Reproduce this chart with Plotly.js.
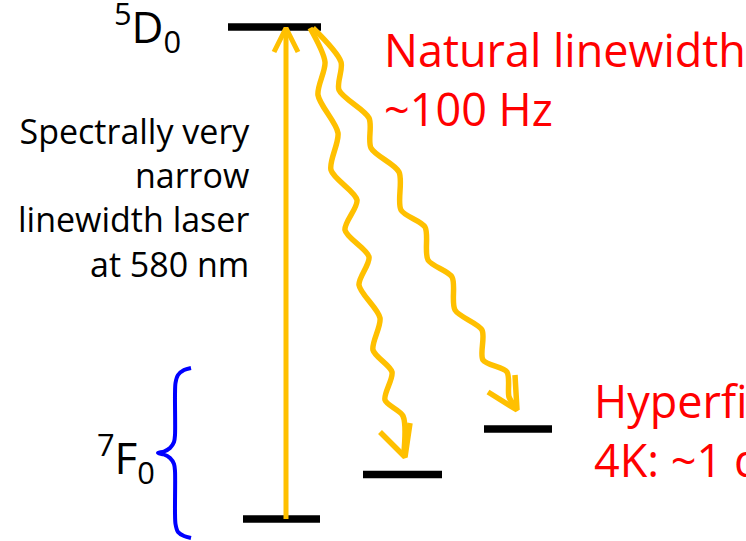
<!DOCTYPE html>
<html>
<head>
<meta charset="utf-8">
<script src="https://cdn.plot.ly/plotly-3.0.1.min.js"></script>
<style>html,body{margin:0;padding:0;background:#fff;}#chart{width:746px;height:541px;}</style>
</head>
<body>
<div id="chart"></div>
<script>
// Energy levels (diagram coordinates, y downward)
var levelNames = ["5D0", "7F0 a", "7F0 b", "7F0 c"];
var levelX0 = [228, 243, 363, 484];
var levelX1 = [321, 320, 442, 552];
var levelY  = [27, 519, 474.5, 429];

// Laser excitation arrow (straight)
var laserX = [286, 286];
var laserY = [519, 31];
var laserHeadX = [274, 286, 298];
var laserHeadY = [52, 28, 52];

// Wavy decay arrow 1 (to lower hyperfine level)
var wave1X = [310, 325, 318, 338, 331, 357, 345, 369, 359, 380, 373, 392, 385, 403, 404];
var wave1Y = [28, 62, 95, 133, 170, 200, 230, 257, 285, 318, 350, 372, 400, 416, 452];
var wave1HeadX = [380, 405, 410];
var wave1HeadY = [432, 457, 423];

// Wavy decay arrow 2 (to upper hyperfine level)
var wave2X = [313, 341, 339, 369, 371, 399, 401, 425, 428, 452, 455, 482, 483, 507, 509, 515];
var wave2Y = [28, 62, 90, 118, 148, 172, 210, 227, 260, 277, 310, 330, 360, 372, 397, 406];
var wave2HeadX = [488, 517, 515];
var wave2HeadY = [392, 410, 375];

// Curly brace grouping the 7F0 hyperfine manifold
var braceX = [191,184,178,175.5,175,175,174,170,164,158,164,170,174,175,175,175.5,178,184,191];
var braceY = [368,370,375,383,395,435,442,448,451.5,453,454.5,458,464,471,512,524,532,536,538];

// Labels
var termUpper = "<sup>5</sup>D<sub>0</sub>";
var termLower = "<sup>7</sup>F<sub>0</sub>";
var laserText = ["Spectrally very", "narrow", "linewidth laser", "at 580 nm"];
var naturalText = ["Natural linewidth", "~100 Hz"];
var hyperfineText = ["Hyperfine lifetime", "4K: ~1 day"];

var yellow = "#FFC000";
var traces = [];
for (var i = 0; i < levelY.length; i++) {
  traces.push({x: [levelX0[i], levelX1[i]], y: [levelY[i], levelY[i]], mode: "lines",
    line: {color: "#000000", width: 7.5}, hoverinfo: "skip", name: levelNames[i]});
}
traces.push({x: laserX, y: laserY, mode: "lines", line: {color: yellow, width: 5}, hoverinfo: "skip"});
traces.push({x: laserHeadX, y: laserHeadY, mode: "lines", line: {color: yellow, width: 5}, hoverinfo: "skip"});
traces.push({x: wave1X, y: wave1Y, mode: "lines", line: {color: yellow, width: 5.5, shape: "spline", smoothing: 0.8}, hoverinfo: "skip"});
traces.push({x: wave1HeadX, y: wave1HeadY, mode: "lines", line: {color: yellow, width: 5.5}, hoverinfo: "skip"});
traces.push({x: wave2X, y: wave2Y, mode: "lines", line: {color: yellow, width: 5.5, shape: "spline", smoothing: 0.8}, hoverinfo: "skip"});
traces.push({x: wave2HeadX, y: wave2HeadY, mode: "lines", line: {color: yellow, width: 5.5}, hoverinfo: "skip"});
traces.push({x: braceX, y: braceY, mode: "lines", line: {color: "#0000FF", width: 4, shape: "spline", smoothing: 0.8}, hoverinfo: "skip"});

var FONT = "Open Sans, Noto Sans, DejaVu Sans, sans-serif";
var annotations = [
  {x: 112, y: 27, xanchor: "left", yanchor: "middle", text: termUpper, showarrow: false,
   font: {family: FONT, size: 44, color: "#000"}},
  {x: 95, y: 421, xanchor: "left", yanchor: "top", text: termLower, showarrow: false,
   font: {family: FONT, size: 44, color: "#000"}},
  {x: 252, y: 106, xanchor: "right", yanchor: "top", align: "right", text: laserText.join("<br>"), showarrow: false,
   font: {family: FONT, size: 34, color: "#000"}},
  {x: 382, y: 17, xanchor: "left", yanchor: "top", align: "left", text: naturalText.join("<br>"), showarrow: false,
   font: {family: FONT, size: 45, color: "#FF0000"}},
  {x: 592, y: 368, xanchor: "left", yanchor: "top", align: "left", text: hyperfineText.join("<br>"), showarrow: false,
   font: {family: FONT, size: 45, color: "#FF0000"}}
];

var layout = {
  width: 746, height: 541,
  margin: {l: 0, r: 0, t: 0, b: 0, pad: 0},
  paper_bgcolor: "#ffffff", plot_bgcolor: "#ffffff",
  showlegend: false,
  xaxis: {range: [0, 746], visible: false, fixedrange: true},
  yaxis: {range: [541, 0], visible: false, fixedrange: true},
  annotations: annotations
};
Plotly.newPlot("chart", traces, layout, {displayModeBar: false, staticPlot: true});
</script>
</body>
</html>
